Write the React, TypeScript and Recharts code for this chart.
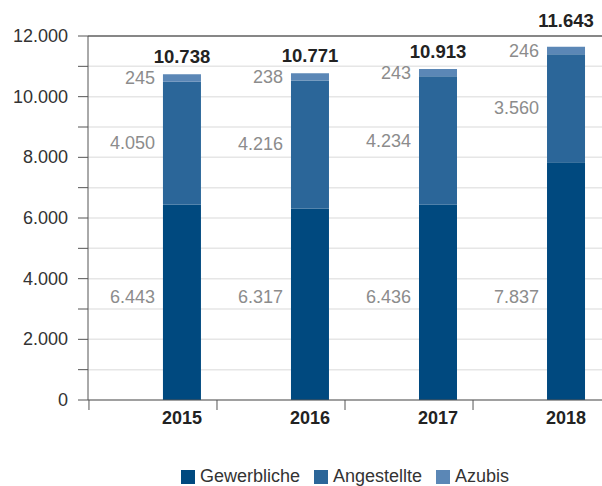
import {
  Bar,
  BarChart,
  CartesianGrid,
  LabelList,
  Legend,
  ReferenceLine,
  XAxis,
  YAxis,
} from "recharts";

// Mitarbeiter nach Gruppe, 2015-2018
const years = ["2015", "2016", "2017", "2018"];
const gewerbliche = [6443, 6317, 6436, 7837];
const angestellte = [4050, 4216, 4234, 3560];
const azubis = [245, 238, 243, 246];
const yTicks = [0, 1000, 2000, 3000, 4000, 5000, 6000, 7000, 8000, 9000, 10000, 11000, 12000];

const series = [
  { key: "gewerbliche", name: "Gewerbliche", color: "#00497f" },
  { key: "angestellte", name: "Angestellte", color: "#2b6699" },
  { key: "azubis", name: "Azubis", color: "#5b87b6" },
];

const data = years.map((year, i) => ({
  idx: i,
  year,
  gewerbliche: gewerbliche[i],
  angestellte: angestellte[i],
  azubis: azubis[i],
  total: gewerbliche[i] + angestellte[i] + azubis[i],
}));

const FONT = "'Liberation Sans', Arial, sans-serif";

const fmt = (v: number) => String(v).replace(/\B(?=(\d{3})+(?!\d))/g, ".");

const YTick = ({ x, y, payload }: any) => {
  if (payload.value % 2000 !== 0) return <g />;
  return (
    <text x={x} y={y} dy={6} textAnchor="end" fontSize={18} fill="#333" fontFamily={FONT}>
      {fmt(payload.value)}
    </text>
  );
};

const XTick = ({ x, y, payload }: any) => (
  <g>
    <line x1={x - 93} x2={x - 93} y1={y} y2={y + 10} stroke="#555" strokeWidth={1} />
    <text
      x={x}
      y={y + 24}
      textAnchor="middle"
      fontSize={18}
      fontWeight="bold"
      fill="#222"
      fontFamily={FONT}
    >
      {years[payload.value]}
    </text>
  </g>
);

const SideLabel = ({ x, y, height, value }: any) => (
  <text
    x={x - 8}
    y={y + height / 2}
    dy={6}
    textAnchor="end"
    fontSize={18}
    fill="#8c8c8c"
    fontFamily={FONT}
  >
    {fmt(value)}
  </text>
);

// bottom segment labels sit on one common line near the base
const BaseLabel = ({ x, y, height, value }: any) => (
  <text
    x={x - 8}
    y={y + height - 103}
    dy={6}
    textAnchor="end"
    fontSize={18}
    fill="#8c8c8c"
    fontFamily={FONT}
  >
    {fmt(value)}
  </text>
);

const TotalLabel = ({ x, y, width, value }: any) => {
  // push the label above the frame line when the bar nearly reaches it
  const ty = y - 17 < 44 ? 21 : y - 17;
  return (
    <text
      x={x + width / 2}
      y={ty}
      dy={6}
      textAnchor="middle"
      fontSize={18.5}
      fontWeight="bold"
      fill="#222"
      fontFamily={FONT}
    >
      {fmt(value)}
    </text>
  );
};

const LegendContent = () => (
  <div
    style={{
      display: "flex",
      justifyContent: "center",
      paddingTop: 21,
      paddingLeft: 80,
      fontFamily: FONT,
      fontSize: 18,
      color: "#333",
      lineHeight: "19px",
    }}
  >
    {series.map((s) => (
      <span key={s.key} style={{ display: "flex", alignItems: "center", margin: "0 7px" }}>
        <span
          style={{ width: 14, height: 14, background: s.color, display: "inline-block", marginRight: 5 }}
        />
        {s.name}
      </span>
    ))}
  </div>
);

export default function App() {
  return (
    <div style={{ position: "absolute", left: 0, top: 0, width: 602, height: 486, overflow: "hidden" }}>
      <BarChart
        width={602}
        height={486}
        data={data}
        margin={{ top: 36, right: 0, left: 8, bottom: 0 }}
      >
        <CartesianGrid vertical={false} stroke="#e6e6e6" strokeWidth={1.5} />
        <XAxis
          type="number"
          dataKey="idx"
          domain={[-0.734, 3.281]}
          ticks={[0, 1, 2, 3]}
          allowDataOverflow
          height={46}
          tickLine={false}
          tickSize={0}
          tickMargin={0}
          axisLine={{ stroke: "#555" }}
          tick={<XTick />}
          interval={0}
        />
        <YAxis
          width={80}
          domain={[0, 12000]}
          ticks={yTicks}
          interval={0}
          tickSize={10}
          tickMargin={10}
          axisLine={{ stroke: "#555" }}
          tickLine={{ stroke: "#555" }}
          tick={<YTick />}
        />
        <ReferenceLine y={12000} stroke="#666" strokeWidth={1.5} />
        <Legend verticalAlign="bottom" height={40} content={<LegendContent />} />
        <Bar dataKey="gewerbliche" name="Gewerbliche" stackId="a" fill={series[0].color} barSize={38} isAnimationActive={false}>
          <LabelList dataKey="gewerbliche" content={<BaseLabel />} />
        </Bar>
        <Bar dataKey="angestellte" name="Angestellte" stackId="a" fill={series[1].color} barSize={38} isAnimationActive={false}>
          <LabelList dataKey="angestellte" content={<SideLabel />} />
        </Bar>
        <Bar dataKey="azubis" name="Azubis" stackId="a" fill={series[2].color} barSize={38} isAnimationActive={false}>
          <LabelList dataKey="azubis" content={<SideLabel />} />
          <LabelList dataKey="total" content={<TotalLabel />} />
        </Bar>
      </BarChart>
    </div>
  );
}
